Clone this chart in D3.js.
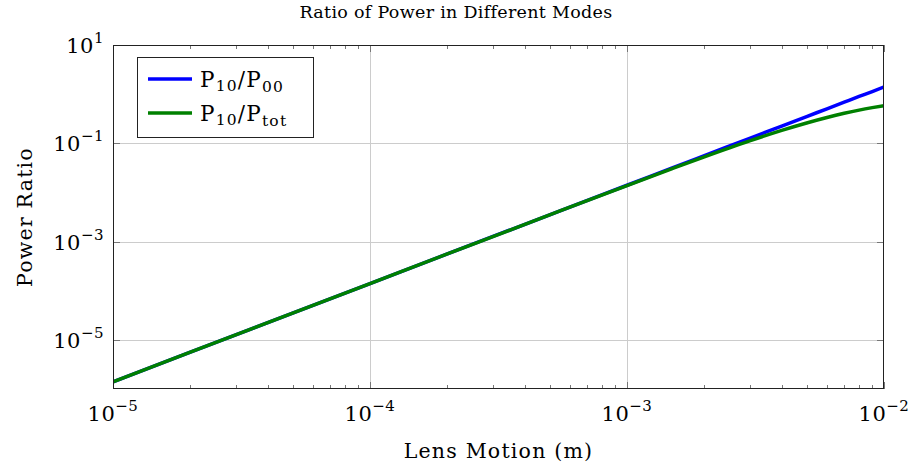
<!DOCTYPE html>
<html>
<head>
<meta charset="utf-8">
<script src="https://cdn.jsdelivr.net/npm/d3@7"></script>
<style>
  body { margin: 0; background: #fff; }
  svg { display: block; font-family: 'DejaVu Serif', 'Liberation Serif', serif; }
</style>
</head>
<body>
<svg id="chart" width="914" height="469"></svg>
<script>
// values
const lensMotion = [1e-5, 2e-5, 5e-5, 1e-4, 2e-4, 5e-4, 1e-3, 1.5e-3, 2e-3, 3e-3, 4e-3, 5e-3, 6e-3, 7e-3, 8e-3, 9e-3, 1e-2];
const ratio10to00 = [1.4e-6, 5.6e-6, 3.5e-5, 1.4e-4, 5.6e-4, 3.5e-3, 0.014, 0.0315, 0.056, 0.126, 0.224, 0.35, 0.504, 0.686, 0.896, 1.13, 1.4];
const ratio10toTot = [1.4e-6, 5.6e-6, 3.5e-5, 1.4e-4, 5.6e-4, 3.49e-3, 0.0138, 0.0305, 0.053, 0.112, 0.183, 0.259, 0.335, 0.407, 0.473, 0.531, 0.583];
const xTickExp = [-5, -4, -3, -2];
const yTickExp = [1, -1, -3, -5];

const series = [
  { name: ['P', '10', '/P', '00'], values: ratio10to00, color: '#0000ff' },
  { name: ['P', '10', '/P', 'tot'], values: ratio10toTot, color: '#008000' },
];

const svg = d3.select('#chart');
const margin = { left: 113, right: 30, top: 45, bottom: 80 };
const width = 914, height = 469;
const x0 = margin.left, x1 = width - margin.right;
const y0 = margin.top, y1 = height - margin.bottom;

const x = d3.scaleLog().domain([1e-5, 1e-2]).range([x0, x1]);
const y = d3.scaleLog().domain([1e-6, 10]).range([y1, y0]);

// grid
const grid = svg.append('g').attr('stroke', '#cccccc').attr('stroke-width', 1);
xTickExp.slice(1, -1).forEach((e) => {
  const px = Math.round(x(10 ** e)) + 0.5;
  grid.append('line').attr('x1', px).attr('x2', px).attr('y1', y0).attr('y2', y1);
});
yTickExp.slice(1).forEach((e) => {
  const py = Math.round(y(10 ** e)) + 0.5;
  grid.append('line').attr('x1', x0).attr('x2', x1).attr('y1', py).attr('y2', py);
});

// ticks (inside, top/bottom minor ticks on x)
const ticks = svg.append('g').attr('stroke', '#777').attr('stroke-width', 1);
x.ticks().forEach((t) => {
  const major = Math.abs(Math.log10(t) - Math.round(Math.log10(t))) < 1e-9;
  const len = major ? 7 : 4;
  const px = Math.round(x(t)) + 0.5;
  ticks.append('line').attr('x1', px).attr('x2', px).attr('y1', y1).attr('y2', y1 - len);
  ticks.append('line').attr('x1', px).attr('x2', px).attr('y1', y0).attr('y2', y0 + len);
});
yTickExp.forEach((e) => {
  const py = Math.round(y(10 ** e)) + 0.5;
  ticks.append('line').attr('x1', x0).attr('x2', x0 + 7).attr('y1', py).attr('y2', py);
  ticks.append('line').attr('x1', x1).attr('x2', x1 - 7).attr('y1', py).attr('y2', py);
});

// curves
const line = d3.line()
  .x((d) => x(d[0]))
  .y((d) => y(d[1]))
  .curve(d3.curveMonotoneX);

const clip = svg.append('clipPath').attr('id', 'plotClip');
clip.append('rect').attr('x', x0).attr('y', y0).attr('width', x1 - x0).attr('height', y1 - y0);

series.forEach((s) => {
  svg.append('path')
    .attr('clip-path', 'url(#plotClip)')
    .attr('d', line(lensMotion.map((v, i) => [v, s.values[i]])))
    .attr('fill', 'none')
    .attr('stroke', s.color)
    .attr('stroke-width', 3.5);
});

// frame
svg.append('rect')
  .attr('x', x0 + 0.5).attr('y', y0 + 0.5)
  .attr('width', x1 - x0 - 1).attr('height', y1 - y0 - 1)
  .attr('fill', 'none').attr('stroke', '#222').attr('stroke-width', 1);

// tick labels
function powerLabel(g, exp, px, py, anchor) {
  const t = g.append('text')
    .attr('x', px).attr('y', py)
    .attr('text-anchor', anchor)
    .attr('font-size', 21)
    .attr('letter-spacing', 0.5)
    .attr('fill', '#000');
  t.append('tspan').text('10');
  t.append('tspan').attr('dy', -10).attr('font-size', 15).text(exp < 0 ? '\u2212' + (-exp) : String(exp));
}
const labels = svg.append('g');
xTickExp.forEach((e) => powerLabel(labels, e, x(10 ** e), y1 + 32, 'middle'));
yTickExp.forEach((e) => powerLabel(labels, e, x0 - 9, y(10 ** e) + 8, 'end'));

// titles
svg.append('text')
  .attr('x', 456).attr('y', 18)
  .attr('text-anchor', 'middle').attr('font-size', 17.5)
  .attr('letter-spacing', 0.3)
  .text('Ratio of Power in Different Modes');
svg.append('text')
  .attr('x', (x0 + x1) / 2).attr('y', 458)
  .attr('text-anchor', 'middle').attr('font-size', 20.5)
  .attr('letter-spacing', 1.2)
  .text('Lens Motion (m)');
svg.append('text')
  .attr('transform', `translate(32, ${(y0 + y1) / 2}) rotate(-90)`)
  .attr('text-anchor', 'middle').attr('font-size', 20.5)
  .attr('letter-spacing', 1.2)
  .text('Power Ratio');

// legend
const legend = svg.append('g').attr('transform', 'translate(137, 57)');
legend.append('rect')
  .attr('x', 0.5).attr('y', 0.5).attr('width', 176).attr('height', 80)
  .attr('fill', '#fff').attr('stroke', '#222').attr('stroke-width', 1);
series.forEach((s, i) => {
  const ly = 22 + i * 34;
  legend.append('line')
    .attr('x1', 11).attr('x2', 55).attr('y1', ly).attr('y2', ly)
    .attr('stroke', s.color).attr('stroke-width', 3.5);
  const t = legend.append('text')
    .attr('x', 63).attr('y', ly + 8)
    .attr('font-size', 21.5)
    .attr('letter-spacing', 1.2);
  t.append('tspan').text(s.name[0]);
  t.append('tspan').attr('dy', 4).attr('font-size', 15.5).text(s.name[1]);
  t.append('tspan').attr('dy', -4).text(s.name[2]);
  t.append('tspan').attr('dy', 5).attr('font-size', 15.5).text(s.name[3]);
});
</script>
</body>
</html>
